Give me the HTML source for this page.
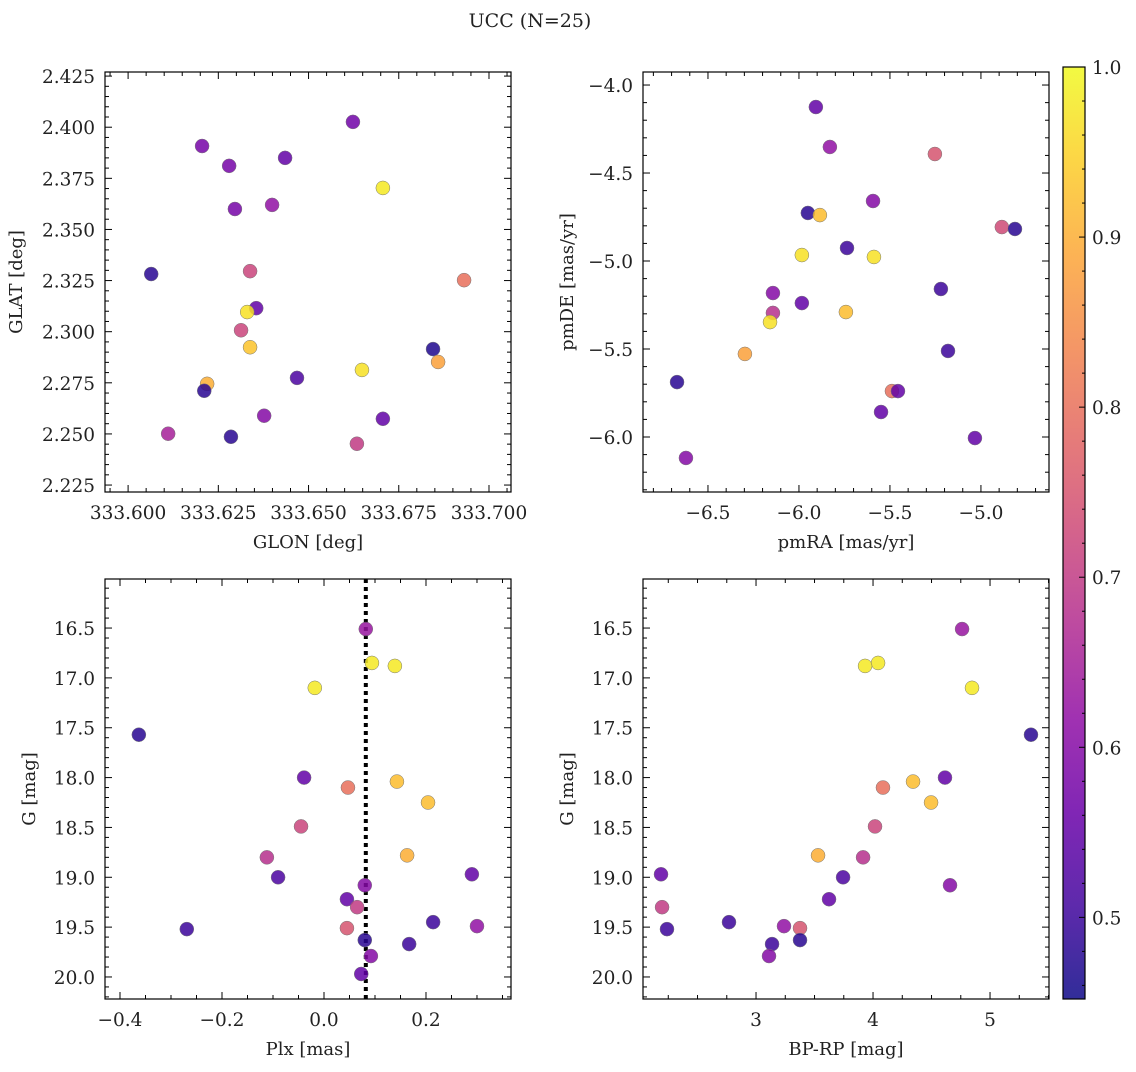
<!DOCTYPE html>
<html><head><meta charset="utf-8"><style>
body{margin:0;background:#fff}
svg text{font-family:"DejaVu Serif","Liberation Serif",serif;fill:#222}
</style></head><body>
<svg id="fig" width="1136" height="1067" xmlns="http://www.w3.org/2000/svg">
<text x="530" y="27" font-size="19" text-anchor="middle">UCC (N=25)</text>
</svg>
<script>
// Top-left panel data
const glon=[333.6064,333.6205,333.6280,333.6435,333.6623,333.6706,333.6296,333.6399,333.6338,333.6355,333.6330,333.6313,333.6338,333.6931,333.6845,333.6859,333.6648,333.6468,333.6219,333.6211,333.6377,333.6706,333.6111,333.6285,333.6634];
const glat=[2.3282,2.3908,2.3811,2.3850,2.4026,2.3703,2.3600,2.3620,2.3296,2.3115,2.3096,2.3007,2.2924,2.3252,2.2915,2.2852,2.2813,2.2774,2.2745,2.2711,2.2589,2.2574,2.2501,2.2486,2.2452];
const probTL=[0.48,0.58,0.58,0.55,0.57,0.98,0.58,0.62,0.72,0.55,0.97,0.72,0.93,0.80,0.47,0.88,0.97,0.52,0.90,0.48,0.60,0.55,0.65,0.48,0.70];
// Top-right panel data
const pmra=[-5.907,-5.830,-5.253,-5.951,-5.885,-5.593,-5.736,-4.885,-4.813,-5.984,-5.588,-6.143,-5.220,-5.984,-6.143,-5.742,-6.159,-6.297,-5.181,-6.670,-5.489,-5.456,-5.549,-5.033,-6.621];
const pmde=[-4.125,-4.352,-4.392,-4.727,-4.739,-4.659,-4.926,-4.807,-4.818,-4.966,-4.977,-5.182,-5.159,-5.239,-5.295,-5.290,-5.347,-5.528,-5.511,-5.688,-5.739,-5.739,-5.858,-6.006,-6.119];
const probTR=[0.55,0.62,0.75,0.48,0.92,0.60,0.50,0.73,0.48,0.97,0.97,0.60,0.50,0.55,0.68,0.92,0.97,0.88,0.50,0.48,0.80,0.55,0.55,0.55,0.60];
// Bottom panels data
const gmag=[16.51,16.85,16.88,17.10,17.57,18.00,18.10,18.04,18.25,18.49,18.78,18.80,19.00,18.97,19.08,19.22,19.30,19.45,19.49,19.52,19.51,19.63,19.67,19.79,19.97];
const plx=[0.082,0.094,0.139,-0.018,-0.363,-0.039,0.047,0.143,0.204,-0.045,0.163,-0.112,-0.090,0.290,0.080,0.045,0.065,0.214,0.300,-0.269,0.045,0.080,0.167,0.092,0.073];
const bprp=[4.761,4.043,3.932,4.846,5.350,4.615,4.085,4.342,4.496,4.017,3.530,3.915,3.744,2.188,4.658,3.624,2.197,2.769,3.239,2.239,3.376,3.376,3.137,3.111,null];
const probB=[0.63,0.98,0.98,0.98,0.48,0.55,0.80,0.92,0.92,0.72,0.90,0.68,0.52,0.55,0.60,0.55,0.70,0.50,0.62,0.50,0.75,0.48,0.50,0.60,0.55];
const plxLine=0.082;
const cbTicks=[0.5,0.6,0.7,0.8,0.9,1.0];
const cMin=0.452,cMax=1.0;

const NS="http://www.w3.org/2000/svg";
const svg=document.getElementById('fig');
function mk(t,a,p){const e=document.createElementNS(NS,t);for(const k in a)e.setAttribute(k,a[k]);(p||svg).appendChild(e);return e;}
const stops=['#0d0887','#41049d','#6a00a8','#8f0da4','#b12a90','#cc4778','#e16462','#f2844b','#fca636','#fcce25','#f0f921'];
function hx(h){return [1,3,5].map(i=>parseInt(h.substr(i,2),16));}
function plasma(t){t=Math.max(0,Math.min(1,t));const f=t*10,i=Math.min(9,Math.floor(f)),r=f-i;const a=hx(stops[i]),b=hx(stops[i+1]);return 'rgb('+a.map((v,k)=>Math.round(v+(b[k]-v)*r)).join(',')+')';}
function col(v){return plasma((v-cMin)/(cMax-cMin));}

function panel(o){
  const g=mk('g',{});
  
  
  const X=v=>o.x0+(v-o.xmin)/(o.xmax-o.xmin)*o.w;
  const Y=v=>o.inv? o.y0+(v-o.ymin)/(o.ymax-o.ymin)*o.h : o.y0+o.h-(v-o.ymin)/(o.ymax-o.ymin)*o.h;
  const eps=1e-9;
  for(let v=Math.ceil((o.xmin)/o.xminor-eps)*o.xminor; v<=o.xmax+eps; v+=o.xminor){
    const px=X(v);const maj=Math.abs(v/o.xmajor-Math.round(v/o.xmajor))<1e-4;const L=maj?7:4;
    mk('line',{x1:px,x2:px,y1:o.y0+o.h,y2:o.y0+o.h-L,stroke:'#000','stroke-width':1},g);
    mk('line',{x1:px,x2:px,y1:o.y0,y2:o.y0+L,stroke:'#000','stroke-width':1},g);
    if(maj){const t=mk('text',{x:px,y:o.y0+o.h+27,'font-size':18.5,'text-anchor':'middle'},g);t.textContent=o.xfmt(v);
      }
  }
  for(let v=Math.ceil((o.ymin)/o.yminor-eps)*o.yminor; v<=o.ymax+eps; v+=o.yminor){
    const py=Y(v);const maj=Math.abs(v/o.ymajor-Math.round(v/o.ymajor))<1e-4;const L=maj?7:4;
    mk('line',{x1:o.x0,x2:o.x0+L,y1:py,y2:py,stroke:'#000','stroke-width':1},g);
    mk('line',{x1:o.x0+o.w,x2:o.x0+o.w-L,y1:py,y2:py,stroke:'#000','stroke-width':1},g);
    if(maj){const t=mk('text',{x:o.x0-10,y:py+7,'font-size':18.5,'text-anchor':'end'},g);t.textContent=o.yfmt(v);
      }
  }
  if(o.extra)o.extra(g,X,Y);
  o.xs.forEach((xv,i)=>{if(xv===null)return;
    const c=mk('circle',{cx:X(xv),cy:Y(o.ys[i]),r:7,fill:col(o.cs[i]),'fill-opacity':0.85,stroke:'#777','stroke-width':0.5},g);
    
    
  });
  mk('rect',{x:o.x0,y:o.y0,width:o.w,height:o.h,fill:'none',stroke:'#000','stroke-width':1.2},g);
  const xl=mk('text',{x:o.x0+o.w/2,y:o.y0+o.h+56,'font-size':18,'text-anchor':'middle'},g);xl.textContent=o.xlabel;
  
  const yx=o.x0-o.ylabOff,yy=o.y0+o.h/2;
  const yl=mk('text',{x:yx,y:yy,'font-size':18,'text-anchor':'middle',transform:`rotate(-90 ${yx} ${yy})`},g);yl.textContent=o.ylabel;
  
}
const f3=v=>v.toFixed(3), f1=v=>v.toFixed(1), fm=v=>(v<0?'\u2212':'')+Math.abs(v).toFixed(1), f0=v=>String(Math.round(v));
const fmp=v=>{const s=Math.abs(v)<1e-9?'0.0':Math.abs(v).toFixed(1);return (v<-1e-9?'\u2212':'')+s;};
panel({name:'glon-glat-panel',x0:105,y0:72,w:406,h:420,xmin:333.5936,xmax:333.7061,ymin:2.2216,ymax:2.427,xmajor:0.025,xminor:0.005,ymajor:0.025,yminor:0.005,xfmt:f3,yfmt:f3,xs:glon,ys:glat,cs:probTL,xlabel:'GLON [deg]',ylabel:'GLAT [deg]',ylabOff:83});
panel({name:'pm-panel',x0:643,y0:72,w:406,h:420,xmin:-6.857,xmax:-4.626,ymin:-6.3125,ymax:-3.926,xmajor:0.5,xminor:0.1,ymajor:0.5,yminor:0.1,xfmt:fm,yfmt:fm,xs:pmra,ys:pmde,cs:probTR,xlabel:'pmRA [mas/yr]',ylabel:'pmDE [mas/yr]',ylabOff:70});
panel({name:'plx-g-panel',x0:105,y0:579,w:406,h:420,inv:true,xmin:-0.4294,xmax:0.3667,ymin:16.008,ymax:20.221,xmajor:0.2,xminor:0.05,ymajor:0.5,yminor:0.1,xfmt:fmp,yfmt:f1,xs:plx,ys:gmag,cs:probB,xlabel:'Plx [mas]',ylabel:'G [mag]',ylabOff:70,
  extra:(g,X,Y)=>{const l=mk('line',{x1:X(plxLine),x2:X(plxLine),y1:579,y2:999,stroke:'#000','stroke-width':4,'stroke-dasharray':'4 4'},g);}});
panel({name:'cmd-panel',x0:643,y0:579,w:406,h:420,inv:true,xmin:2.034,xmax:5.504,ymin:16.008,ymax:20.221,xmajor:1,xminor:0.25,ymajor:0.5,yminor:0.1,xfmt:f0,yfmt:f1,xs:bprp,ys:gmag,cs:probB,xlabel:'BP-RP [mag]',ylabel:'G [mag]',ylabOff:70});
const defs=mk('defs',{});const lg=mk('linearGradient',{id:'cbg',x1:0,y1:1,x2:0,y2:0},defs);
for(let i=0;i<=20;i++){const t=i/20;mk('stop',{offset:t,'stop-color':plasma(t),'stop-opacity':0.85},lg);}
const cb=mk('g',{});
const cy0=67,ch=932,cx0=1063,cw=22;
mk('rect',{x:cx0,y:cy0,width:cw,height:ch,fill:'url(#cbg)',stroke:'#000','stroke-width':1.2},cb);
const CY=v=>cy0+ch-(v-cMin)/(cMax-cMin)*ch;
for(let v=0.46;v<=1.0001;v+=0.02){const py=CY(v);const maj=Math.abs(v*10-Math.round(v*10))<1e-4;
  mk('line',{x1:cx0+cw,x2:cx0+cw-(maj?6:3),y1:py,y2:py,stroke:'#000'},cb);}
cbTicks.forEach(v=>{const t=mk('text',{x:cx0+cw+7,y:CY(v)+7,'font-size':18.5},cb);t.textContent=v.toFixed(1);
  });
</script>
</body></html>
